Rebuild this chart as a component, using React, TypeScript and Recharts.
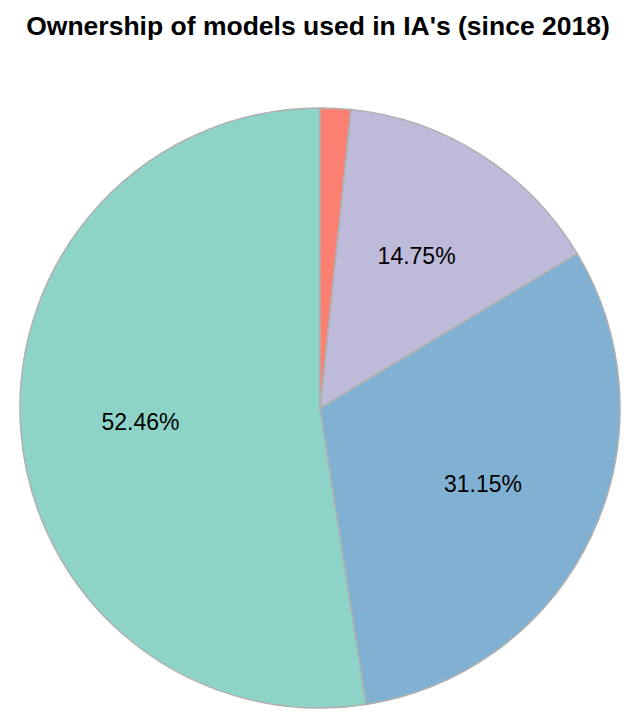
import { PieChart, Pie, Cell } from 'recharts'

const owners = ['Owned', 'Shared', 'External', 'Other']
const counts = [32, 19, 9, 1]
const colors = ['#8dd3c7', '#80b1d3', '#bebada', '#fb8072']

const data = owners.map((name, i) => ({ name, value: counts[i] }))

const RADIAN = Math.PI / 180

function PctLabel({ cx, cy, midAngle, outerRadius, percent }: any) {
  // tiny slices get no label
  if (percent < 0.05) return null
  const r = outerRadius * 0.6
  const x = cx + r * Math.cos(-midAngle * RADIAN)
  const y = cy + r * Math.sin(-midAngle * RADIAN)
  return (
    <text x={x} y={y} fill="#000" textAnchor="middle" dominantBaseline="central" fontSize={23}>
      {`${(percent * 100).toFixed(2)}%`}
    </text>
  )
}

export default function App() {
  return (
    <div
      style={{
        position: 'absolute',
        left: 0,
        top: 0,
        width: 636,
        height: 728,
        background: '#fff',
        fontFamily: '"Liberation Sans", Arial, sans-serif',
      }}
    >
      <div
        style={{
          position: 'absolute',
          top: 11,
          left: 0,
          width: 636,
          textAlign: 'center',
          fontSize: 26.5,
          fontWeight: 'bold',
        }}
      >
        Ownership of models used in IA's (since 2018)
      </div>
      <PieChart
        width={636}
        height={728}
        margin={{ top: 0, right: 0, bottom: 0, left: 0 }}
        style={{ position: 'absolute', left: 0, top: 0 }}
      >
        <Pie
          data={data}
          dataKey="value"
          nameKey="name"
          cx={320}
          cy={408}
          outerRadius={300}
          startAngle={90}
          endAngle={450}
          stroke="#b0b0b0"
          strokeWidth={1.5}
          label={PctLabel}
          labelLine={false}
          isAnimationActive={false}
        >
          {data.map((d, i) => (
            <Cell key={d.name} fill={colors[i]} />
          ))}
        </Pie>
      </PieChart>
    </div>
  )
}
